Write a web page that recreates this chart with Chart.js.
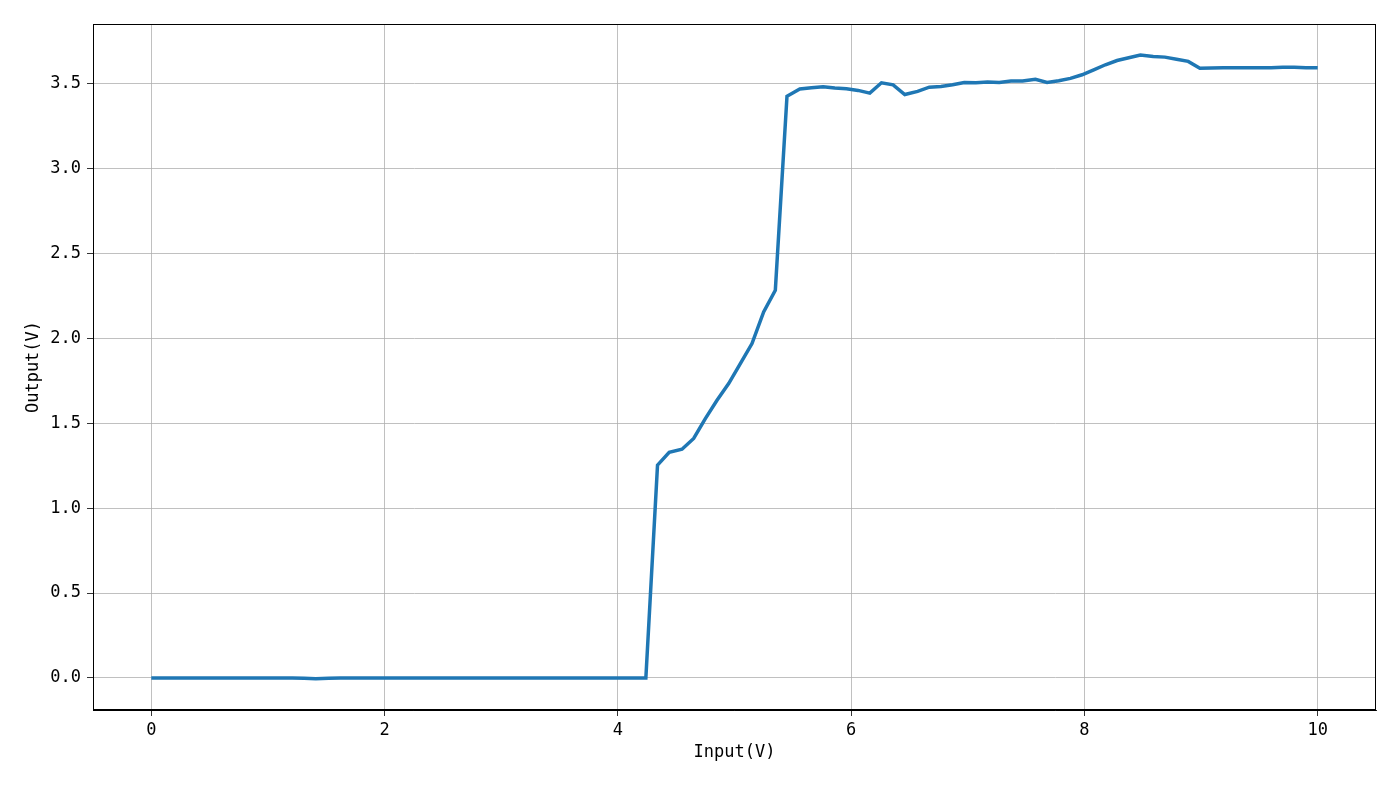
<!DOCTYPE html>
<html>
<head>
<meta charset="utf-8">
<script src="https://cdn.jsdelivr.net/npm/chart.js@4/dist/chart.umd.min.js"></script>
<style>
html,body{margin:0;padding:0;background:#fff;}
#wrap{width:1400px;height:787px;}
</style>
</head>
<body>
<div id="wrap"><canvas id="c" width="1400" height="787"></canvas></div>
<script>
const inputV = [0.00,0.10,0.20,0.30,0.40,0.51,0.61,0.71,0.81,0.91,
1.01,1.11,1.21,1.31,1.41,1.52,1.62,1.72,1.82,1.92,
2.02,2.12,2.22,2.32,2.42,2.53,2.63,2.73,2.83,2.93,
3.03,3.13,3.23,3.33,3.43,3.54,3.64,3.74,3.84,3.94,
4.04,4.14,4.24,4.34,4.44,4.55,4.65,4.75,4.85,4.95,
5.05,5.15,5.25,5.35,5.45,5.56,5.66,5.76,5.86,5.96,
6.06,6.16,6.26,6.36,6.46,6.57,6.67,6.77,6.87,6.97,
7.07,7.17,7.27,7.37,7.47,7.58,7.68,7.78,7.88,7.98,
8.08,8.18,8.28,8.38,8.48,8.59,8.69,8.79,8.89,8.99,
9.09,9.19,9.29,9.39,9.49,9.60,9.70,9.80,9.90,10.00];
const outputV = [0,0,0,0,0,0,0,0,0,0,
0,0,0,-0.002,-0.005,-0.002,0,0,0,0,
0,0,0,0,0,0,0,0,0,0,
0,0,0,0,0,0,0,0,0,0,
0,0,0,1.253,1.328,1.347,1.41,1.527,1.635,1.733,
1.851,1.969,2.155,2.282,3.425,3.467,3.475,3.48,3.473,3.469,
3.459,3.443,3.504,3.492,3.435,3.453,3.478,3.482,3.492,3.506,
3.504,3.508,3.506,3.514,3.514,3.525,3.506,3.516,3.53,3.551,
3.58,3.61,3.635,3.651,3.667,3.659,3.655,3.643,3.63,3.59,
3.591,3.592,3.592,3.593,3.593,3.593,3.595,3.595,3.593,3.592];
const xTicks = [0,2,4,6,8,10];
const yTicks = [0,0.5,1.0,1.5,2.0,2.5,3.0,3.5];
const xTitle = 'Input(V)';
const yTitle = 'Output(V)';

const FONT = '"DejaVu Sans Mono", monospace';

const framePlugin = {
  id: 'frame',
  afterDraw(chart) {
    const a = chart.chartArea, ctx = chart.ctx;
    ctx.save();
    ctx.strokeStyle = '#000';
    ctx.lineWidth = 1;
    ctx.strokeRect(Math.round(a.left) + 0.5, Math.round(a.top) + 0.5,
                   Math.round(a.right - a.left) - 1, Math.round(a.bottom - a.top) - 1);
    ctx.restore();
  }
};

new Chart(document.getElementById('c'), {
  type: 'line',
  data: {
    datasets: [{
      data: inputV.map((x, i) => ({x: x, y: outputV[i]})),
      borderColor: '#1f77b4',
      borderWidth: 3.5,
      pointRadius: 0,
      tension: 0,
      fill: false
    }]
  },
  options: {
    responsive: false,
    animation: false,
    layout: {padding: {left: 19, top: 24, right: 24, bottom: 20}},
    plugins: {legend: {display: false}, tooltip: {enabled: false}},
    scales: {
      x: {
        type: 'linear',
        min: -0.5, max: 10.5,
        afterBuildTicks: s => { s.ticks = xTicks.map(v => ({value: v})); },
        afterFit: s => { s.height = 57; },
        grid: {color: '#b0b0b0', lineWidth: 0.8, tickColor: '#000', tickLength: 6, drawTicks: true},
        border: {color: '#000', width: 1},
        ticks: {color: '#000', font: {family: FONT, size: 17}, padding: 4, maxRotation: 0,
                callback: v => String(v)},
        title: {display: true, text: xTitle, color: '#000', font: {family: FONT, size: 17}, padding: {top: 2, bottom: 4}}
      },
      y: {
        type: 'linear',
        min: -0.1885, max: 3.85,
        afterBuildTicks: s => { s.ticks = yTicks.map(v => ({value: v})); },
        afterFit: s => { s.width = 74; },
        grid: {color: '#b0b0b0', lineWidth: 0.8, tickColor: '#000', tickLength: 6, drawTicks: true},
        border: {color: '#000', width: 1},
        ticks: {color: '#000', font: {family: FONT, size: 17}, padding: 6,
                callback: v => Number(v).toFixed(1)},
        title: {display: true, text: yTitle, color: '#000', font: {family: FONT, size: 17}, padding: {top: 4, bottom: 4}}
      }
    }
  },
  plugins: [framePlugin]
});
</script>
</body>
</html>
